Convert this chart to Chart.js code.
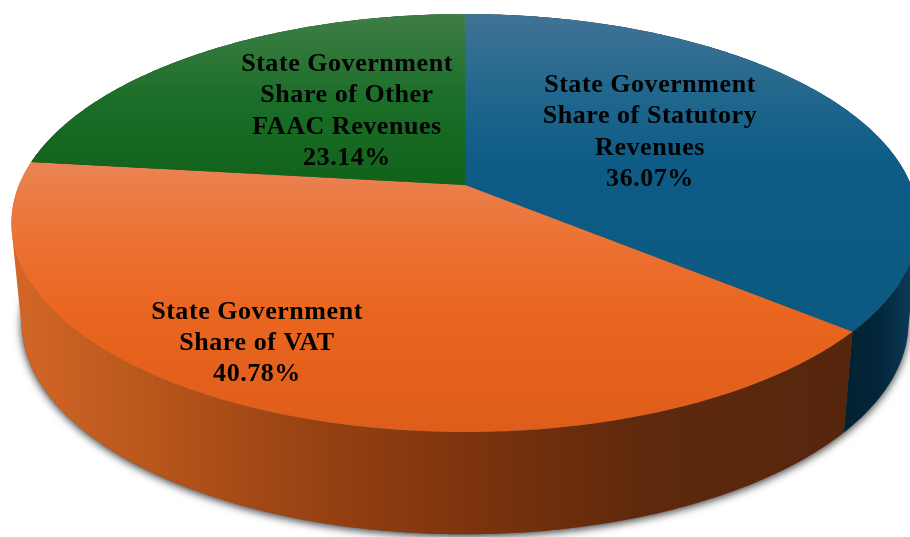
<!DOCTYPE html>
<html><head><meta charset="utf-8">
<style>html,body{margin:0;padding:0;background:#fff;overflow:hidden}canvas{display:block}</style>
<script src="https://cdn.jsdelivr.net/npm/chart.js@4/dist/chart.umd.min.js"></script>
</head><body><canvas id="c" width="910" height="537"></canvas>
<script>
const categories = ['State Government Share of Statutory Revenues','State Government Share of VAT','State Government Share of Other FAAC Revenues'];
const shares = [36.07, 40.78, 23.14];
const labelLines = [
  ['State Government','Share of Statutory','Revenues'],
  ['State Government','Share of VAT'],
  ['State Government','Share of Other','FAAC Revenues']
];
const baseColors = ['#0d5a84','#e96521','#13651f'];
const topGradients = [
  [[14,'#417396'],[100,'#1f668c'],[160,'#0e5c86'],[345,'#0b5980']],
  [[163,'#ea8354'],[240,'#ec7233'],[310,'#ea6620'],[432,'#de5d1a']],
  [[14,'#3f7e46'],[100,'#1b6e28'],[185,'#116219']]
];
const sideGradients = [
  [[843,'#02222f'],[880,'#02263a'],[910,'#0a3a55']],
  [[15,'#d36626'],[130,'#bc591c'],[300,'#9a4313'],[465,'#7e340e'],[640,'#5e290c'],[850,'#56260c']],
  [[0,'#0b3d12'],[910,'#0b3d12']]
];
const labelPos = [{x:650,y:85.5},{x:257,y:312},{x:347,y:64.5}];

const top3D = {cx:465, cy:185, A:446, B:202.1, k:-0.1818};
const bot3D = {cx:465, cy:283.7, A:436, B:205, k:-0.1818};
function project(p,a){
  const u=Math.cos(a), v=Math.sin(a), d=1+p.k*v;
  return [p.cx+p.A*u/d, p.cy+p.B*v/d];
}
function rim(ctx,p,a0,a1){
  const n=Math.max(2,Math.ceil(Math.abs(a1-a0)*90));
  for(let i=0;i<=n;i++){
    const q=project(p,a0+(a1-a0)*i/n);
    ctx.lineTo(q[0],q[1]);
  }
}
// Adds the swept wall between two angles as same-winding quads, so a non-zero fill gives their union.
function wall(ctx,a0,a1){
  const n=Math.max(2,Math.ceil(Math.abs(a1-a0)*90));
  for(let i=0;i<n;i++){
    const s=a0+(a1-a0)*i/n, e=a0+(a1-a0)*(i+1)/n;
    let q=[project(top3D,s),project(top3D,e),project(bot3D,e),project(bot3D,s)];
    let area=0;
    q.forEach((p,j)=>{const r=q[(j+1)%4];area+=p[0]*r[1]-r[0]*p[1];});
    if(area<0)q.reverse();
    ctx.moveTo(q[0][0],q[0][1]);
    for(let j=1;j<4;j++)ctx.lineTo(q[j][0],q[j][1]);
    ctx.closePath();
  }
}
function grad(ctx,stops,horizontal){
  const a=stops[0][0], b=stops[stops.length-1][0];
  const g=horizontal?ctx.createLinearGradient(a,0,b,0):ctx.createLinearGradient(0,a,0,b);
  stops.forEach(s=>g.addColorStop((s[0]-a)/(b-a),s[1]));
  return g;
}
const pie3D = {
  id:'pie3D',
  beforeDatasetDraw(chart){
    const ctx=chart.ctx, arcs=chart.getDatasetMeta(0).data;
    ctx.save();
    // soft shadow cast by the base of the solid only
    ctx.save();
    ctx.shadowColor='rgba(0,0,0,0.8)';ctx.shadowBlur=9;ctx.shadowOffsetY=2;ctx.shadowOffsetX=0;
    ctx.fillStyle='#555';
    ctx.beginPath();rim(ctx,bot3D,0,Math.PI*2);ctx.closePath();ctx.fill();
    ctx.restore();
    // side walls
    arcs.forEach((arc,i)=>{
      ctx.beginPath();
      wall(ctx,arc.startAngle,arc.endAngle);
      ctx.fillStyle=grad(ctx,sideGradients[i],true);
      ctx.fill();
    });
    // top faces
    arcs.forEach((arc,i)=>{
      ctx.beginPath();
      ctx.moveTo(top3D.cx,top3D.cy);
      rim(ctx,top3D,arc.startAngle,arc.endAngle);
      ctx.closePath();
      ctx.fillStyle=grad(ctx,topGradients[i],false);
      ctx.fill();
    });
    // labels
    ctx.fillStyle='#000';ctx.textAlign='center';ctx.textBaseline='middle';
    ctx.font='bold 26px "Liberation Serif"';ctx.letterSpacing='0.55px';
    ctx.filter='blur(0.4px)';
    arcs.forEach((arc,i)=>{
      const lines=labelLines[i].concat(shares[i].toFixed(2)+'%');
      lines.forEach((t,j)=>ctx.fillText(t,labelPos[i].x,labelPos[i].y+j*31.2));
    });
    ctx.restore();
    return false;
  }
};
new Chart(document.getElementById('c'),{
  type:'pie',
  data:{labels:categories,datasets:[{data:shares,backgroundColor:baseColors,borderWidth:0}]},
  options:{responsive:false,animation:false,rotation:0,
    plugins:{legend:{display:false},tooltip:{enabled:false}}},
  plugins:[pie3D]
});
</script></body></html>
